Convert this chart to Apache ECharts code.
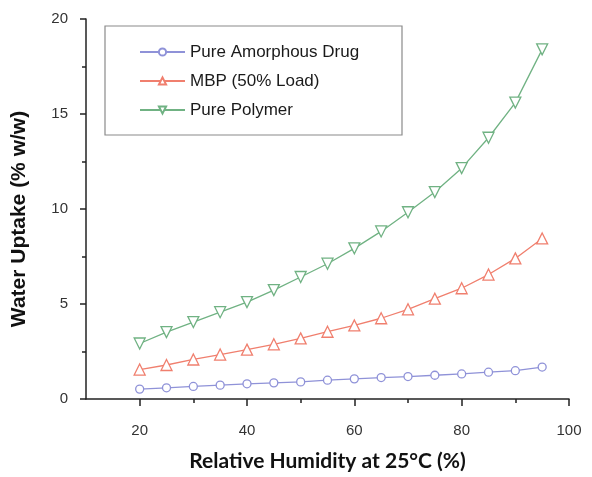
<!DOCTYPE html>
<html>
<head>
<meta charset="utf-8">
<script src="https://cdn.jsdelivr.net/npm/echarts@6/dist/echarts.min.js"></script>
<style>
  html, body { margin: 0; padding: 0; background: #fff; }
  #main { width: 592px; height: 477px; }
</style>
</head>
<body>
<div id="main"></div>
<script>
// relative humidity (%)
var humidity = [20, 25, 30, 35, 40, 45, 50, 55, 60, 65, 70, 75, 80, 85, 90, 95];

// water uptake (% w/w)
var amorphousDrug = [0.52, 0.59, 0.66, 0.73, 0.80, 0.85, 0.90, 0.99, 1.06, 1.13, 1.18, 1.25, 1.32, 1.41, 1.49, 1.68];
var mbp50 = [1.55, 1.79, 2.08, 2.34, 2.60, 2.88, 3.19, 3.54, 3.87, 4.25, 4.72, 5.28, 5.83, 6.55, 7.40, 8.45];
var purePolymer = [2.92, 3.52, 4.05, 4.57, 5.10, 5.73, 6.42, 7.12, 7.93, 8.82, 9.83, 10.89, 12.15, 13.75, 15.6, 18.4];

var xMajorTicks = [20, 40, 60, 80, 100];
var xMinorTicks = [30, 50, 70, 90];

var seriesNames = ['Pure Amorphous Drug', 'MBP (50% Load)', 'Pure Polymer'];
var colors = ['#8f92d8', '#f07f6e', '#70b283'];

function pairs(ys) {
	return humidity.map(function (x, i) { return [x, ys[i]]; });
}

var chart = echarts.init(document.getElementById('main'));

var axisFont = '"Liberation Sans", Arial, sans-serif';

var option = {
	animation: false,
	backgroundColor: '#fff',
	color: colors,
	grid: {
		left: 86,
		right: 23,
		top: 19,
		bottom: 74
	},
	// legend frame
	graphic: [{
		type: 'rect',
		shape: { x: 105, y: 26, width: 297, height: 109 },
		style: { fill: 'none', stroke: '#8a8a8a', lineWidth: 1.2 },
		z: 1
	}],
	legend: {
		left: 134,
		top: 38,
		orient: 'vertical',
		itemWidth: 45,
		itemHeight: 9,
		itemGap: 11,
		textStyle: {
			fontFamily: axisFont,
			fontSize: 17,
			lineHeight: 18,
			color: '#1a1a1a'
		},
		data: seriesNames
	},
	xAxis: [{
		type: 'value',
		min: 10,
		max: 100,
		position: 'bottom',
		splitLine: { show: false },
		axisLine: { onZero: false, lineStyle: { color: '#222', width: 1.5 } },
		axisTick: { customValues: xMajorTicks, length: 7, lineStyle: { color: '#222', width: 1.5 } },
		axisLabel: {
			customValues: xMajorTicks,
			margin: 24,
			fontFamily: axisFont,
			fontSize: 15,
			color: '#333'
		},
		name: 'Relative Humidity at 25°C (%)',
		nameLocation: 'middle',
		nameGap: 52,
		nameTextStyle: {
			fontFamily: 'Lato, "Open Sans", sans-serif',
			fontWeight: 'bold',
			fontSize: 21,
			color: '#111'
		}
	}, {
		type: 'value',
		min: 10,
		max: 100,
		position: 'bottom',
		splitLine: { show: false },
		axisLine: { show: false, onZero: false },
		axisTick: { customValues: xMinorTicks, length: 4, lineStyle: { color: '#222', width: 1.5 } },
		axisLabel: { show: false }
	}],
	yAxis: {
		type: 'value',
		min: 0,
		max: 20,
		interval: 5,
		splitLine: { show: false },
		axisLine: { show: true, onZero: false, lineStyle: { color: '#222', width: 1.5 } },
		axisTick: { show: true, length: 6, lineStyle: { color: '#222', width: 1.5 } },
		minorTick: { show: true, splitNumber: 2, length: 4, lineStyle: { color: '#222', width: 1.5 } },
		axisLabel: {
			margin: 18,
			fontFamily: axisFont,
			fontSize: 15,
			color: '#333'
		},
		name: 'Water Uptake (% w/w)',
		nameLocation: 'middle',
		nameGap: 56,
		nameTextStyle: {
			fontFamily: axisFont,
			fontWeight: 'bold',
			fontSize: 21,
			color: '#111',
			padding: [0, 20, 0, 0]
		}
	},
	series: [{
		name: seriesNames[0],
		type: 'line',
		data: pairs(amorphousDrug),
		symbol: 'circle',
		symbolSize: 8,
		itemStyle: { color: '#fff', borderColor: colors[0], borderWidth: 1.3 },
		lineStyle: { color: colors[0], width: 1.3 },
		z: 3
	}, {
		name: seriesNames[1],
		type: 'line',
		data: pairs(mbp50),
		symbol: 'triangle',
		symbolSize: 11,
		itemStyle: { color: '#fff', borderColor: colors[1], borderWidth: 1.3 },
		lineStyle: { color: colors[1], width: 1.3 },
		z: 3
	}, {
		name: seriesNames[2],
		type: 'line',
		data: pairs(purePolymer),
		symbol: 'triangle',
		symbolRotate: 180,
		symbolSize: 11,
		itemStyle: { color: '#fff', borderColor: colors[2], borderWidth: 1.3 },
		lineStyle: { color: colors[2], width: 1.3 },
		z: 3
	}]
};

chart.setOption(option);
</script>
</body>
</html>
